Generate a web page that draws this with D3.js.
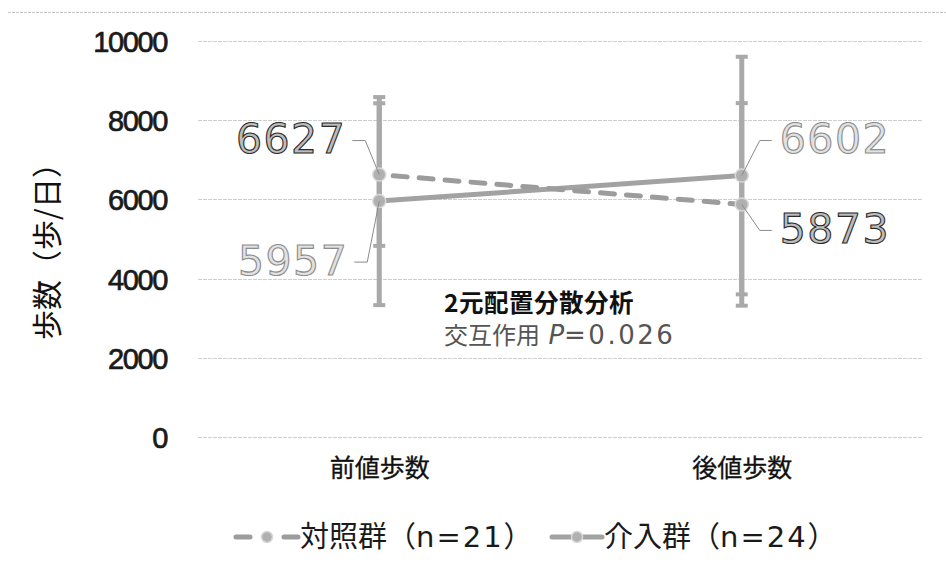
<!DOCTYPE html>
<html>
<head>
<meta charset="utf-8">
<script src="https://cdn.jsdelivr.net/npm/d3@7"></script>
<style>
  html, body { margin: 0; padding: 0; background: #fff; }
  svg { display: block; }
</style>
</head>
<body>
<svg id="chart" width="946" height="571"></svg>
<script>
// Daily step counts, before and after, for two groups (mean ± SD)
const categories = ["前値歩数", "後値歩数"];
const controlMean = [6627, 5873];
const controlSD = [1800, 2557];
const interventionMean = [5957, 6602];
const interventionSD = [2627, 3000];
const yTicks = [0, 2000, 4000, 6000, 8000, 10000];
const seriesNames = ["対照群", "介入群"];
const seriesN = ["n=21", "n=24"];

const svg = d3.select("#chart");
const W = 946, H = 571;
const plot = { left: 198, right: 923, top: 41, bottom: 437 };

const x = d3.scalePoint().domain(categories).range([plot.left, plot.right]).padding(0.5);
const y = d3.scaleLinear().domain([0, 10000]).range([plot.bottom, plot.top]);

const jp = "'Noto Sans CJK JP', 'Noto Sans', sans-serif";
const num = "'DejaVu Sans', 'Noto Sans', sans-serif";

// frame top edge
svg.append("line")
  .attr("x1", 8).attr("x2", W).attr("y1", 12.5).attr("y2", 12.5)
  .attr("stroke", "#c8c8c8").attr("stroke-width", 1).attr("stroke-dasharray", "3 1");

// gridlines
svg.append("g").selectAll("line").data(yTicks).join("line")
  .attr("x1", plot.left).attr("x2", plot.right)
  .attr("y1", d => Math.round(y(d)) + 0.5).attr("y2", d => Math.round(y(d)) + 0.5)
  .attr("stroke", "#cfcfcf").attr("stroke-width", 1).attr("stroke-dasharray", "4 1");

// y axis tick labels
const yAxis = d3.axisLeft(y).tickValues(yTicks).tickSize(0).tickPadding(0).tickFormat(d3.format("d"));
const yg = svg.append("g").attr("transform", `translate(167,0)`).call(yAxis);
yg.select(".domain").remove();
yg.selectAll("text")
  .attr("font-family", "'Liberation Sans', Arial, sans-serif")
  .attr("font-size", 29)
  .attr("letter-spacing", "-1.4px")
  .attr("fill", "#1a1a1a").attr("stroke", "#1a1a1a").attr("stroke-width", 0.7)
  .attr("dy", "0.36em");

// y axis title
svg.append("text")
  .attr("transform", "translate(58,244) rotate(-90)")
  .attr("text-anchor", "middle")
  .attr("font-family", jp).attr("font-size", 30).attr("fill", "#111")
  .text("歩数（歩/日）");

// x axis category labels
const xAxis = d3.axisBottom(x).tickSize(0).tickPadding(0);
const xg = svg.append("g").attr("transform", `translate(0,468)`).call(xAxis);
xg.select(".domain").remove();
xg.selectAll("text")
  .attr("font-family", jp).attr("font-size", 25).attr("fill", "#111")
  .attr("stroke", "#111").attr("stroke-width", 0.3)
  .attr("dy", "0.36em");

const barColor = "#a9a9a9";

// error bars (drawn first so that lines and points sit above)
function errorBars(means, sds) {
  const g = svg.append("g");
  means.forEach((m, i) => {
    const cx = x(categories[i]);
    const top = y(m + sds[i]), bot = y(m - sds[i]);
    g.append("line").attr("x1", cx).attr("x2", cx).attr("y1", top).attr("y2", bot)
      .attr("stroke", barColor).attr("stroke-width", 5);
    [top, bot].forEach(v => {
      g.append("line").attr("x1", cx - 6).attr("x2", cx + 6).attr("y1", v).attr("y2", v)
        .attr("stroke", barColor).attr("stroke-width", 4);
    });
  });
}
errorBars(interventionMean, interventionSD);
errorBars(controlMean, controlSD);

const line = d3.line().x((d, i) => x(categories[i])).y(d => y(d));

// intervention: solid line
svg.append("path").datum(interventionMean).attr("d", line)
  .attr("fill", "none").attr("stroke", "#a2a2a2").attr("stroke-width", 5);

// control: dashed line
svg.append("path").datum(controlMean).attr("d", line)
  .attr("fill", "none").attr("stroke", "#9c9c9c").attr("stroke-width", 5)
  .attr("stroke-dasharray", "14 12").attr("stroke-linecap", "round")
  .attr("stroke-dashoffset", -14);

// points
function points(means) {
  svg.append("g").selectAll("circle").data(means).join("circle")
    .attr("cx", (d, i) => x(categories[i])).attr("cy", d => y(d)).attr("r", 6.5)
    .attr("fill", "#b0b0b0").attr("stroke", "#d8d8d8").attr("stroke-width", 1.5);
}
points(interventionMean);
points(controlMean);

// value labels with leader lines
const labels = [
  { v: controlMean[0], i: 0, dx: -14, dy: -34, side: "left", dark: true },
  { v: interventionMean[0], i: 0, dx: -12, dy: 61, side: "left", dark: false },
  { v: interventionMean[1], i: 1, dx: 18, dy: -35, side: "right", dark: false },
  { v: controlMean[1], i: 1, dx: 18, dy: 26, side: "right", dark: true }
];
const lg = svg.append("g");
labels.forEach(l => {
  const px = x(categories[l.i]), py = y(l.v);
  const ex = px + l.dx, ey = py + l.dy;
  const hx = l.side === "left" ? ex - 13 : ex + 12;
  lg.append("polyline")
    .attr("points", `${px},${py} ${ex},${ey} ${hx},${ey}`)
    .attr("fill", "none").attr("stroke", "#8a8a8a").attr("stroke-width", 1);
  lg.append("text")
    .attr("x", l.side === "left" ? hx - 6 : hx + 8).attr("y", ey - 2)
    .attr("dy", "0.36em")
    .attr("text-anchor", l.side === "left" ? "end" : "start")
    .attr("font-family", num).attr("font-size", 41)
    .attr("letter-spacing", "1.5px")
    .attr("fill", l.dark ? "#bdbdbd" : "#e2e2e2")
    .attr("stroke", l.dark ? "#2a2a2a" : "#8c8c8c").attr("stroke-width", 1.1)
    .text(d3.format("d")(l.v));
});

// statistics note
svg.append("text").attr("x", 444).attr("y", 312)
  .attr("font-family", jp).attr("font-size", 24.5).attr("font-weight", "bold").attr("fill", "#111")
  .attr("letter-spacing", "0.5px")
  .text("2元配置分散分析");
const note = svg.append("text").attr("x", 444).attr("y", 344)
  .attr("font-family", jp).attr("font-size", 24).attr("fill", "#555");
note.append("tspan").text("交互作用 ");
note.append("tspan").attr("font-family", num).attr("font-size", 26).attr("font-style", "italic").attr("dx", 3).text("P");
note.append("tspan").attr("font-family", num).attr("font-size", 26).attr("letter-spacing", "2.5px").text("=0.026");

// legend
const leg = svg.append("g").attr("transform", "translate(0,537)");
function legendText(xPos, name, n) {
  const t = leg.append("text").attr("x", xPos).attr("y", 0).attr("dy", "0.36em")
    .attr("font-family", jp).attr("font-size", 29).attr("fill", "#1a1a1a");
  t.append("tspan").text(name + "（");
  t.append("tspan").attr("font-family", num).attr("letter-spacing", "2px").text(n);
  t.append("tspan").text("）");
}
// control icon
leg.append("line").attr("x1", 236).attr("x2", 298).attr("y1", 0).attr("y2", 0)
  .attr("stroke", "#9c9c9c").attr("stroke-width", 5).attr("stroke-linecap", "round")
  .attr("stroke-dasharray", "14 34");
leg.append("circle").attr("cx", 267).attr("cy", 0).attr("r", 5.5)
  .attr("fill", "#b0b0b0").attr("stroke", "#d8d8d8").attr("stroke-width", 1.5);
legendText(300, seriesNames[0], seriesN[0]);
// intervention icon
leg.append("line").attr("x1", 552).attr("x2", 602).attr("y1", 0).attr("y2", 0)
  .attr("stroke", "#a2a2a2").attr("stroke-width", 5).attr("stroke-linecap", "round");
leg.append("circle").attr("cx", 577).attr("cy", 0).attr("r", 5.5)
  .attr("fill", "#b0b0b0").attr("stroke", "#d8d8d8").attr("stroke-width", 1.5);
legendText(604, seriesNames[1], seriesN[1]);
</script>
</body>
</html>
